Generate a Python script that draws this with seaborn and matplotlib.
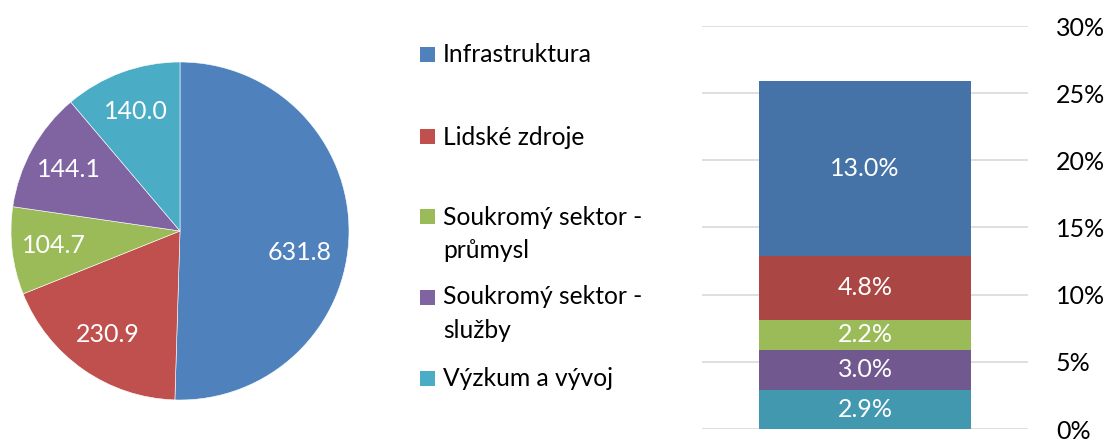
import numpy as np
import matplotlib
matplotlib.use("Agg")
import matplotlib.pyplot as plt
import seaborn as sns
from matplotlib.patches import Rectangle

categories = ["Infrastruktura", "Lidské zdroje", "Soukromý sektor -\nprůmysl",
              "Soukromý sektor -\nslužby", "Výzkum a vývoj"]
pie_values = [631.8, 230.9, 104.7, 144.1, 140.0]
bar_values = [13.0, 4.8, 2.2, 3.0, 2.9]
y_ticks = [0, 5, 10, 15, 20, 25, 30]
y_tick_labels = ["0%", "5%", "10%", "15%", "20%", "25%", "30%"]

pie_colors = ["#4F81BD", "#C0504D", "#9BBB59", "#8064A2", "#4BACC6"]
bar_colors = ["#4572A7", "#AA4643", "#9BBB59", "#71588F", "#4198AF"]

sns.set_theme(style="white")
plt.rcParams["font.family"] = ["Lato", "DejaVu Sans"]

W, H = 1105, 440
FS = 18
fig = plt.figure(figsize=(W / 100, H / 100), dpi=100)

# ---- Pie ----
cx, cy, r = 180, 231, 169
ax_pie = fig.add_axes([(cx - r) / W, (H - cy - r) / H, 2 * r / W, 2 * r / H])
wedges, texts = ax_pie.pie(
    pie_values, colors=pie_colors, startangle=90, counterclock=False,
    labels=[f"{v:.1f}" for v in pie_values], labeldistance=0.75,
    wedgeprops=dict(linewidth=0.4, edgecolor="white"),
    textprops=dict(color="white", fontsize=FS, ha="center", va="center"),
)
# Excel-like best fit nudge for the large slice label
ang = np.deg2rad(-10)
texts[0].set_position((0.72 * np.cos(ang), 0.72 * np.sin(ang)))
ax_pie.set_xlim(-1, 1)
ax_pie.set_ylim(-1, 1)
ax_pie.set_aspect("equal")
ax_pie.axis("off")

# ---- Legend (manual) ----
legend_y = [55, 137, 217, 297, 378]
for col, lab, ly in zip(pie_colors, categories, legend_y):
    fig.patches.append(Rectangle((420 / W, (H - ly - 7.5) / H), 15 / W, 15 / H,
                                 transform=fig.transFigure, facecolor=col,
                                 edgecolor="none"))
    for i, line in enumerate(lab.split("\n")):
        fig.text(443 / W, (H - ly - 33 * i) / H, line, fontsize=FS - 0.3,
                 color="black", ha="left", va="center")

# ---- Stacked bar ----
x0, x1, y30, y0 = 702, 1028, 26, 429
ax_bar = fig.add_axes([x0 / W, (H - y0) / H, (x1 - x0) / W, (y0 - y30) / H])
cum = np.cumsum(bar_values[::-1])[::-1]  # top of each segment, order as categories
for top, col in zip(cum, bar_colors):
    sns.barplot(x=["a"], y=[top], color=col, saturation=1, width=0.65,
                ax=ax_bar, zorder=2, linewidth=0)
for top, v in zip(cum, bar_values):
    ax_bar.text(0, top - v / 2, f"{v:.1f}%", ha="center", va="center",
                color="white", fontsize=FS, zorder=3)
ax_bar.set_xlim(-0.5, 0.5)
ax_bar.set_ylim(0, 30)
ax_bar.set_yticks(y_ticks)
ax_bar.set_yticklabels(y_tick_labels)
ax_bar.yaxis.tick_right()
ax_bar.tick_params(axis="y", length=0, pad=20, labelsize=FS, labelcolor="black")
ax_bar.set_xticks([])
ax_bar.set_xlabel("")
ax_bar.set_ylabel("")
ax_bar.grid(axis="y", color="#D9D9D9", linewidth=1.2, zorder=0)
ax_bar.set_axisbelow(True)
for s in ax_bar.spines.values():
    s.set_visible(False)

fig.savefig("out.png", dpi=100, facecolor="white")
